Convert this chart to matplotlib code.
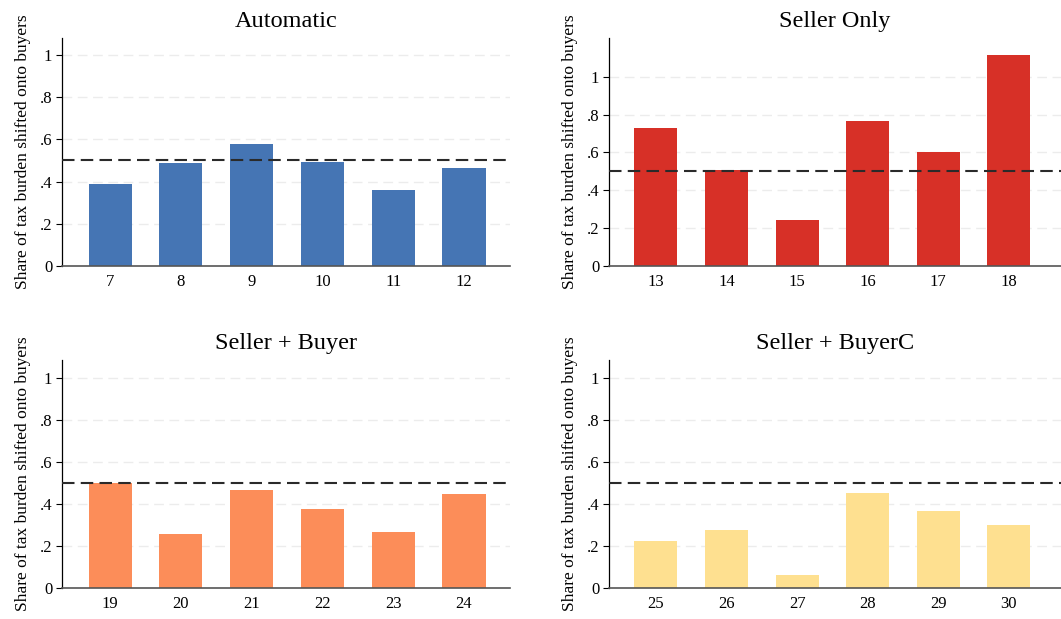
import numpy as np
import matplotlib
matplotlib.use("Agg")
import matplotlib.pyplot as plt

plt.rcParams['font.family'] = ['Liberation Serif', 'DejaVu Serif']

# treatment groups and the share of the tax shifted onto buyers per session
titles = ['Automatic', 'Seller Only', 'Seller + Buyer', 'Seller + BuyerC']
sessions_auto = [7, 8, 9, 10, 11, 12]
sessions_seller = [13, 14, 15, 16, 17, 18]
sessions_sb = [19, 20, 21, 22, 23, 24]
sessions_sbc = [25, 26, 27, 28, 29, 30]
share_auto = [0.390, 0.488, 0.576, 0.495, 0.362, 0.466]
share_seller = [0.730, 0.508, 0.243, 0.767, 0.603, 1.116]
share_sb = [0.498, 0.256, 0.465, 0.374, 0.266, 0.446]
share_sbc = [0.224, 0.275, 0.062, 0.451, 0.366, 0.300]
colors = ['#4575b4', '#d73027', '#fc8d59', '#fee090']
benchmark = 0.5

W, H = 1061, 619
fig = plt.figure(figsize=(W / 100, H / 100), dpi=100)

# axes boxes in pixels: left, top, right, bottom
boxes = [(62, 38, 510, 266), (609, 38, 1061, 266),
         (62, 360, 510, 588), (609, 360, 1061, 588)]
ylims = [1.08, 1.205, 1.084, 1.084]
xpads = [(0.68, 0.65), (0.665, 0.74), (0.68, 0.65), (0.665, 0.74)]

panels = [(sessions_auto, share_auto), (sessions_seller, share_seller),
          (sessions_sb, share_sb), (sessions_sbc, share_sbc)]

for i, (sess, share) in enumerate(panels):
    l, t, r, b = boxes[i]
    ax = fig.add_axes([l / W, 1 - b / H, (r - l) / W, (b - t) / H])
    ax.bar(sess, share, width=0.61, color=colors[i], zorder=2)
    ax.axhline(benchmark, color='#2a2a2a', lw=1.5, dashes=(6, 3), zorder=3)
    for g in [0.2, 0.4, 0.6, 0.8, 1.0]:
        ax.axhline(g, color='#ececec', lw=1.0, dashes=(7, 4), zorder=1)
    ax.set_xlim(sess[0] - xpads[i][0], sess[-1] + xpads[i][1])
    ax.set_ylim(0, ylims[i])
    ax.set_yticks([0, 0.2, 0.4, 0.6, 0.8, 1.0])
    ax.set_yticklabels(['0', '.2', '.4', '.6', '.8', '1'])
    ax.set_xticks(sess)
    ax.tick_params(axis='x', length=0, labelsize=12, pad=6)
    ax.tick_params(axis='y', length=4, width=0.8, labelsize=12, pad=3)
    for s in ['top', 'right']:
        ax.spines[s].set_visible(False)
    ax.spines['left'].set_linewidth(0.9)
    ax.spines['bottom'].set_linewidth(1.2)
    ax.spines['bottom'].set_color('#555555')
    ax.set_title(titles[i], fontsize=17.5, pad=8)
    ax.set_ylabel('Share of tax burden shifted onto buyers', fontsize=12.5, labelpad=6)

fig.savefig('out.png', dpi=100)
